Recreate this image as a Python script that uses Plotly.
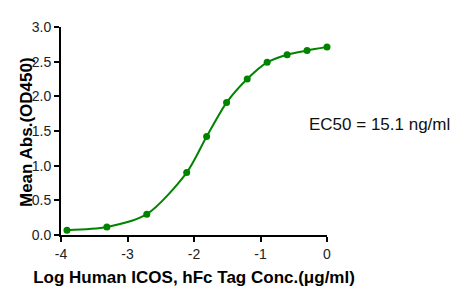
import plotly.graph_objects as go

log_conc = [-3.91, -3.31, -2.71, -2.11, -1.81, -1.51, -1.20, -0.90, -0.60, -0.30, 0.0]
mean_abs = [0.07, 0.115, 0.30, 0.90, 1.42, 1.91, 2.25, 2.49, 2.60, 2.66, 2.71]
x_ticks = [-4, -3, -2, -1, 0]
y_ticks = [0.0, 0.5, 1.0, 1.5, 2.0, 2.5, 3.0]
ec50_text = "EC50 = 15.1 ng/ml"
y_title = "Mean Abs.(OD450)"
x_title = "Log Human ICOS, hFc Tag Conc.(μg/ml)"

green = "rgb(0,132,0)"
font = "Liberation Sans, Arial, sans-serif"

fig = go.Figure()
fig.add_trace(go.Scatter(
    x=log_conc, y=mean_abs, mode="lines+markers",
    line=dict(color=green, width=2, shape="spline", smoothing=0.8),
    marker=dict(color=green, size=7),
    cliponaxis=False, showlegend=False,
))

axis_common = dict(
    showline=True, linecolor="black", linewidth=2,
    ticks="outside", tickcolor="black", tickwidth=2, ticklen=5,
    showgrid=False, zeroline=False,
    tickfont=dict(family=font, size=14, color="#222"),
)

fig.update_layout(
    width=466, height=302,
    margin=dict(l=61, r=139, t=27, b=67),
    paper_bgcolor="white", plot_bgcolor="white",
    xaxis=dict(range=[-4, 0], tickvals=x_ticks, ticktext=[str(v) for v in x_ticks],
               title=dict(text=x_title,
                          font=dict(family=font, size=17, color="black", weight="bold"),
                          standoff=10),
               **axis_common),
    yaxis=dict(range=[0, 3], tickvals=y_ticks, ticktext=[f"{v:.1f}" for v in y_ticks],
               **axis_common),
    annotations=[
        dict(text=ec50_text, x=1.0, xref="paper", xanchor="left", xshift=-20,
             y=(235 - 124) / 208 * 3, yref="y", showarrow=False,
             font=dict(family=font, size=17, color="#111")),
        dict(text=y_title, textangle=-90, x=0, xref="paper", xanchor="center", xshift=-35,
             y=0.5, yref="paper", yanchor="middle", yshift=-1, showarrow=False,
             font=dict(family=font, size=17, color="black", weight="bold")),
    ],
)
fig.write_html("out.html")
